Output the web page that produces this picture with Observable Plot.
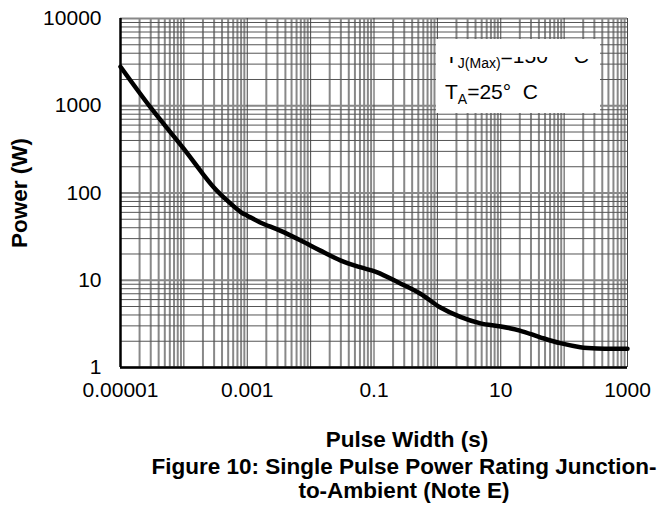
<!DOCTYPE html>
<html>
<head>
<meta charset="utf-8">
<script src="https://cdn.jsdelivr.net/npm/d3@7"></script>
<script src="https://cdn.jsdelivr.net/npm/@observablehq/plot@0.6"></script>
<style>
  html, body { margin: 0; padding: 0; background: #fff; }
  body { width: 669px; height: 511px; position: relative; overflow: hidden; font-family: "Liberation Sans", Arial, sans-serif; }
  #chart { position: absolute; left: 0; top: 0; }
  .lbl { position: absolute; font-weight: bold; color: #000; white-space: nowrap; font-size: 22.5px; }
  #legend { position: absolute; left: 436px; top: 39px; width: 164px; height: 74px; background: #fff; }
  #legclip { position: absolute; left: 0; top: 18px; width: 164px; height: 56px; overflow: hidden; }
  .leg { position: absolute; left: 9px; font-size: 21px; white-space: nowrap; line-height: 1; }
  .leg sub { font-size: 14px; vertical-align: -5px; }
</style>
</head>
<body>
<div id="chart"></div>
<div class="lbl" id="ylab" style="left:20px; top:193px; transform: translate(-50%,-50%) rotate(-90deg);">Power (W)</div>
<div class="lbl" style="left:407px; top:440px; transform: translate(-50%,-50%);">Pulse Width (s)</div>
<div class="lbl" style="left:404px; top:467px; transform: translate(-50%,-50%);">Figure 10: Single Pulse Power Rating Junction-</div>
<div class="lbl" style="left:404px; top:491px; transform: translate(-50%,-50%);">to-Ambient (Note E)</div>
<div id="legend"><div id="legclip">
  <div class="leg" style="top:-12px;">T<sub>J(Max)</sub>=150&nbsp;°&nbsp;&nbsp;C</div>
  <div class="leg" style="top:24px;">T<sub>A</sub>=25°&nbsp;&nbsp;C</div>
</div></div>
<script>
// Curve data
const pulseWidth = [1e-5, 3e-5, 1e-4, 2e-4, 3e-4, 5e-4, 8e-4, 1e-3, 1.6e-3, 3.3e-3, 7e-3, 0.014, 0.03, 0.06, 0.11, 0.26, 0.54, 1.1, 2.3, 4.8, 10, 20, 42, 87, 180, 330, 1000];
const power      = [2800, 950, 320, 165, 115, 80, 60, 55, 46, 37, 28.5, 22, 16.8, 14.1, 12.4, 9.2, 7, 4.9, 3.8, 3.2, 2.95, 2.65, 2.22, 1.9, 1.71, 1.65, 1.64];

// Tick labels
const xTicks = [1e-5, 1e-3, 0.1, 10, 1000];
const xTickLabels = ["0.00001", "0.001", "0.1", "10", "1000"];
const yTicks = [1, 10, 100, 1000, 10000];
const yTickLabels = ["1", "10", "100", "1000", "10000"];

// Grid decades and multipliers
const xDecades = [1e-5, 1e-4, 1e-3, 1e-2, 1e-1, 1, 10, 100];
const yDecades = [1, 10, 100, 1000];
const minorMult = [2, 3, 4, 5, 6, 7, 8, 9];

const xMajor = [...xDecades, 1000];
const yMajor = [...yDecades, 10000];
const xMinor = xDecades.flatMap(d => minorMult.map(m => d * m));
const yMinor = yDecades.flatMap(d => minorMult.map(m => d * m));

const data = pulseWidth.map((t, i) => ({t, p: power[i]}));

const chart = Plot.plot({
  width: 669,
  height: 400,
  marginLeft: 120,
  marginRight: 42,
  marginTop: 18,
  marginBottom: 33,
  style: {fontFamily: "'Liberation Sans', Arial, sans-serif", fontSize: "21px", color: "#000", background: "#fff"},
  x: {type: "log", domain: [1e-5, 1000]},
  y: {type: "log", domain: [1, 10000]},
  marks: [
    Plot.ruleX(xMinor, {y1: 1, y2: 10000, stroke: "#888", strokeWidth: 2}),
    Plot.ruleY(yMinor, {x1: 1e-5, x2: 1000, stroke: "#555", strokeWidth: 1}),
    Plot.ruleY(yMajor, {x1: 1e-5, x2: 1000, stroke: "#888", strokeWidth: 2}),
    Plot.ruleX(xMajor, {y1: 1, y2: 10000, stroke: "#444", strokeWidth: 1}),
    Plot.ruleX([1e-5], {y1: 1, y2: 10000, stroke: "#000", strokeWidth: 2.5}),
    Plot.ruleY([1], {x1: 1e-5, x2: 1000, stroke: "#000", strokeWidth: 2.5}),
    Plot.line(data, {x: "t", y: "p", curve: "catmull-rom", stroke: "#000", strokeWidth: 4.5}),
    Plot.axisX(xTicks, {tickSize: 0, tickPadding: 15, label: null, fontSize: 21,
      tickFormat: d => xTickLabels[xTicks.indexOf(d)]}),
    Plot.axisY(yTicks, {tickSize: 0, tickPadding: 19, label: null, fontSize: 21,
      tickFormat: d => yTickLabels[yTicks.indexOf(d)]})
  ]
});
document.getElementById("chart").appendChild(chart);
</script>
</body>
</html>
